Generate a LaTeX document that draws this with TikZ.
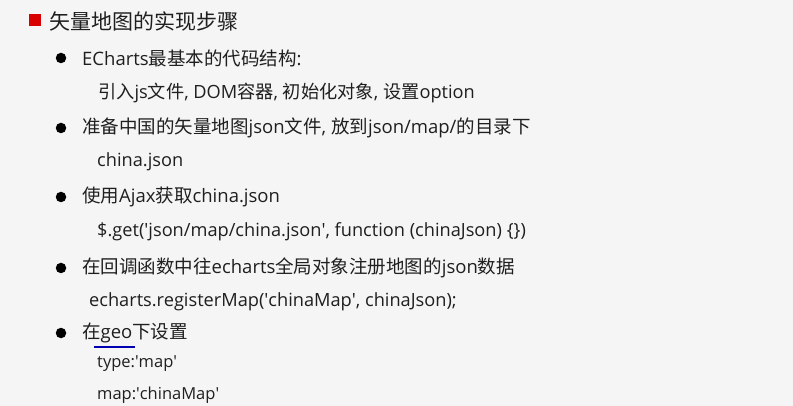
\documentclass[tikz,border=0pt]{standalone}
\usepackage{fontspec}
\setmainfont{Open Sans}[Ligatures=ResetAll]
\newfontfamily\lat{Open Sans}[RawFeature=-tlig]
\newfontfamily\cjk{Noto Sans CJK SC}
\newcommand\zh[1]{{\cjk #1}}
\newcommand\sq{{\lat\char"0027}}
\begin{document}
\begin{tikzpicture}[x=1pt,y=-1pt,
  txt/.style={anchor=west,inner sep=0pt,text=black!88,font=\fontsize{18.5}{20}\selectfont},
  sub/.style={anchor=west,inner sep=0pt,text=black!88,font=\fontsize{18.2}{19}\selectfont},
  dot/.style={circle,fill=black,inner sep=0pt,minimum size=10.5pt}]
\fill[black!4] (0,0) rectangle (793,406);
\useasboundingbox (0,0) rectangle (793,406);
\fill[red!85!black] (29,14) rectangle (41,26) coordinate (sqr);
\node[anchor=west,inner sep=0pt,text=black!88,font=\fontsize{21}{24}\selectfont\cjk] (t) at (49,21) {矢量地图的实现步骤};
\node[dot] (b1) at (61,58) {};
\node[txt] (l1) at (82,58) {ECharts\zh{最基本的代码结构}:};
\node[sub] (s1) at (98,93) {\zh{引入}js\zh{文件}, DOM\zh{容器}, \zh{初始化对象}, \zh{设置}option};
\node[dot] (b2) at (61,128) {};
\node[txt] (l2) at (82,128) {\zh{准备中国的矢量地图}json\zh{文件}, \zh{放到}json/map/\zh{的目录下}};
\node[sub] (s2) at (97,162) {china.json};
\node[dot] (b3) at (61,197) {};
\node[txt] (l3) at (82,197) {\zh{使用}Ajax\zh{获取}china.json};
\node[sub] (s3) at (97,232) {\$.get(\sq json/map/china.json\sq, function (chinaJson) \{\})};
\node[dot] (b4) at (61,268) {};
\node[txt] (l4) at (82,268) {\zh{在回调函数中往}echarts\zh{全局对象注册地图的}json\zh{数据}};
\node[sub] (s4) at (89,302) {echarts.registerMap(\sq chinaMap\sq, chinaJson);};
\node[dot] (b5) at (61,333) {};
\node[txt] (l5) at (82,333) {\zh{在}geo\zh{下设置}};
\node[sub,font=\fontsize{16.5}{18}\selectfont] (s5) at (97,364) {type:\sq map\sq};
\node[sub,font=\fontsize{16.5}{18}\selectfont] (s6) at (97,395) {map:\sq chinaMap\sq};
\coordinate (u1) at (94,347); \coordinate (u2) at (135,347);
\draw[blue!70!black,line width=2pt] (u1) -- (u2);
\end{tikzpicture}
\end{document}
